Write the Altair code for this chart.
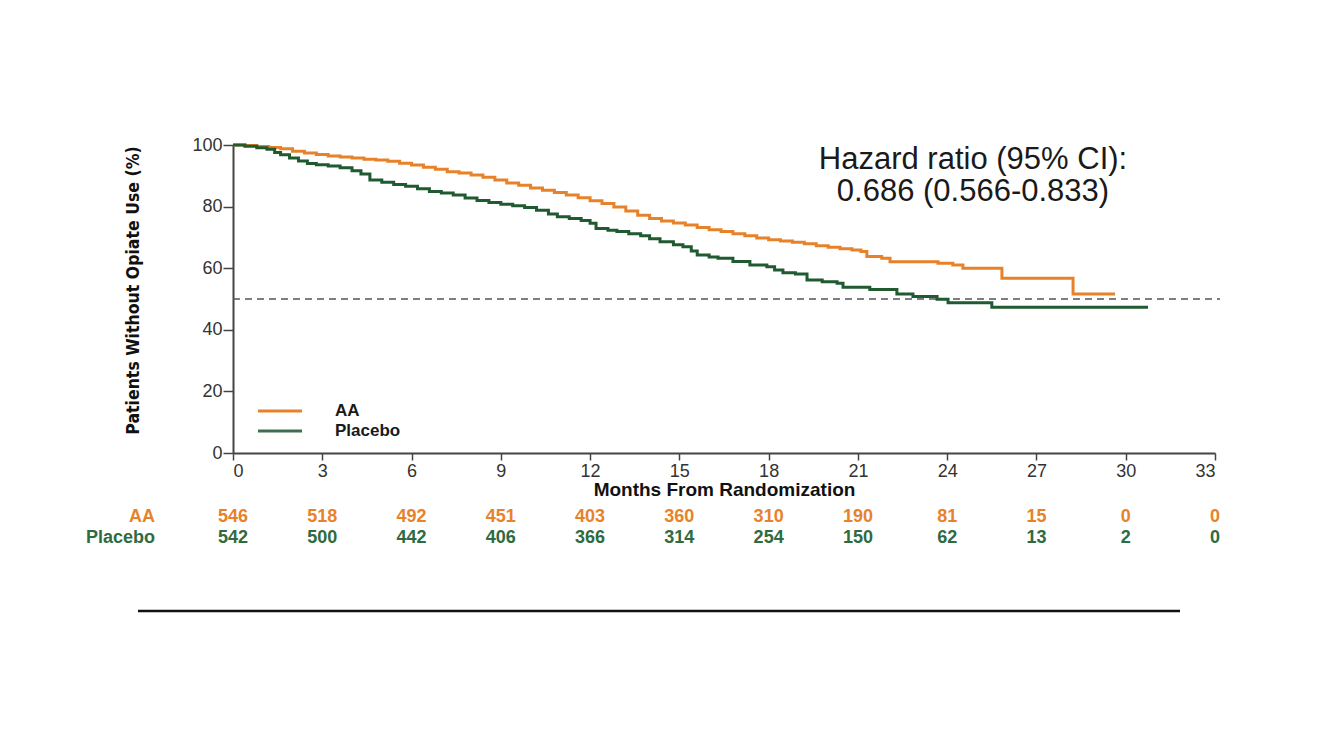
import altair as alt
import pandas as pd

# ---- data ----
groups = ["AA", "Placebo"]
line_colors = ["#E8822A", "#1F5A30"]
text_colors = ["#E8822A", "#2F6B40"]
legend_colors = ["#E8822A", "#3E7050"]

aa_months = [0.0, 0.4, 0.8, 1.2, 1.6, 2.0, 2.4, 2.8, 3.2, 3.6, 4.0, 4.4, 4.8, 5.2, 5.6,
             6.0, 6.4, 6.8, 7.2, 7.6, 8.0, 8.4, 8.8, 9.2, 9.6, 10.0, 10.4, 10.8, 11.2,
             11.6, 12.0, 12.4, 12.8, 13.2, 13.6, 14.0, 14.4, 14.8, 15.2, 15.6, 16.0, 16.4,
             16.8, 17.2, 17.6, 18.0, 18.4, 18.8, 19.2, 19.6, 20.0, 20.4, 20.8, 21.1, 21.3,
             21.8, 22.08, 23.69, 24.19, 24.53, 25.84, 28.23, 29.64]
aa_surv = [100, 99.8, 99.5, 99.2, 98.8, 98.0, 97.4, 96.9, 96.4, 96.1, 95.8, 95.4, 95.1,
           94.7, 94.1, 93.5, 92.8, 92.1, 91.3, 90.9, 90.3, 89.5, 88.6, 87.7, 86.9, 86.0,
           85.3, 84.6, 83.8, 82.9, 81.9, 81.0, 79.9, 78.6, 77.2, 76.1, 75.3, 74.7, 74.0,
           73.2, 72.5, 71.9, 71.2, 70.5, 69.8, 69.2, 68.8, 68.4, 67.9, 67.3, 66.8, 66.3,
           65.9, 65.4, 63.8, 63.2, 62.1, 61.6, 61.0, 60.0, 56.7, 51.6, 51.6]

pl_months = [0.0, 0.4, 0.8, 1.14, 1.4, 1.6, 1.9, 2.2, 2.5, 2.8, 3.2, 3.6, 4.0, 4.3, 4.6,
             5.0, 5.4, 5.8, 6.2, 6.6, 7.0, 7.4, 7.8, 8.2, 8.6, 9.0, 9.4, 9.8, 10.2, 10.6,
             10.9, 11.3, 11.7, 12.0, 12.2, 12.6, 12.9, 13.3, 13.7, 14.0, 14.35, 14.8,
             15.12, 15.4, 15.6, 16.0, 16.3, 16.8, 17.37, 17.94, 18.2, 18.48, 18.9, 19.29,
             19.8, 20.3, 20.5, 21.4, 22.31, 22.85, 23.66, 24.03, 25.50, 30.75]
pl_surv = [100, 99.6, 99.1, 98.6, 97.6, 96.8, 95.8, 94.8, 94.0, 93.6, 93.2, 92.6, 91.6,
           90.6, 88.6, 87.9, 87.2, 86.6, 85.8, 84.9, 84.4, 83.8, 82.8, 82.0, 81.3, 80.8,
           80.3, 79.7, 78.8, 77.6, 76.7, 76.1, 75.5, 74.6, 72.9, 72.3, 71.9, 71.2, 70.5,
           69.6, 68.6, 67.6, 67.0, 65.6, 64.3, 63.6, 63.2, 62.2, 61.0, 60.5, 59.4, 58.5,
           58.1, 56.2, 55.6, 55.1, 53.8, 53.1, 51.6, 50.8, 49.9, 48.8, 47.3, 47.3]

tick_months = [0, 3, 6, 9, 12, 15, 18, 21, 24, 27, 30, 33]
risk_aa = [546, 518, 492, 451, 403, 360, 310, 190, 81, 15, 0, 0]
risk_pl = [542, 500, 442, 406, 366, 314, 254, 150, 62, 13, 2, 0]
y_ticks = [0, 20, 40, 60, 80, 100]
median_line = [50]
hr_text = ["Hazard ratio (95% CI):\n0.686 (0.566-0.833)"]

FONT = "Liberation Sans"

curves = pd.concat([
    pd.DataFrame({"month": aa_months, "surv": aa_surv, "group": groups[0]}),
    pd.DataFrame({"month": pl_months, "surv": pl_surv, "group": groups[1]}),
])

x_scale = alt.Scale(domain=[0, 33], nice=False, zero=False)
y_scale = alt.Scale(domain=[0, 100], nice=False)

lines = alt.Chart(curves).mark_line(interpolate="step-after", strokeWidth=3).encode(
    x=alt.X("month:Q", scale=x_scale,
            axis=alt.Axis(values=tick_months, title="Months From Randomization",
                          titleFont=FONT, titleFontSize=19, titleFontWeight="bold",
                          titleColor="#111", titlePadding=0, labelPadding=2, tickSize=7)),
    y=alt.Y("surv:Q", scale=y_scale,
            axis=alt.Axis(values=y_ticks, title="Patients Without Opiate Use (%)",
                          titleFont="DejaVu Sans Condensed", titleFontSize=17.5,
                          titleFontWeight="bold", titleColor="#111",
                          titleX=-100, titleY=145, titleAngle=-90,
                          titleAlign="center", titleBaseline="middle",
                          labelPadding=1, tickSize=10)),
    color=alt.Color("group:N", scale=alt.Scale(domain=groups, range=line_colors), legend=None),
)

dash = alt.Chart(pd.DataFrame({"y": median_line})).mark_rule(
    strokeDash=[7, 5], color="#555", strokeWidth=1.5
).encode(y=alt.Y("y:Q", scale=y_scale), x=alt.value(0), x2=alt.value(987))

hr = alt.Chart(pd.DataFrame({"txt": hr_text})).mark_text(
    lineBreak="\n", lineHeight=32, font=FONT, fontSize=31, color="#1a1a1a",
    align="center", baseline="top"
).encode(text="txt:N", x=alt.value(740), y=alt.value(0))

risk_layers = []
for i, (g, vals, ypix) in enumerate([(groups[0], risk_aa, 372), (groups[1], risk_pl, 393)]):
    df = pd.DataFrame({"month": tick_months, "n": vals})
    risk_layers.append(
        alt.Chart(df).mark_text(font=FONT, fontSize=18, fontWeight="bold",
                                color=text_colors[i], baseline="middle", align="center")
        .encode(x=alt.X("month:Q", scale=x_scale), y=alt.value(ypix), text="n:Q")
    )
    risk_layers.append(
        alt.Chart(pd.DataFrame({"g": [g]})).mark_text(
            font=FONT, fontSize=18, fontWeight="bold", color=text_colors[i],
            baseline="middle", align="right"
        ).encode(x=alt.value(-78), y=alt.value(ypix), text="g:N")
    )

legend_layers = []
for i, (g, ypix) in enumerate([(groups[0], 266), (groups[1], 286)]):
    d = pd.DataFrame({"g": [g]})
    legend_layers.append(
        alt.Chart(d).mark_rule(color=legend_colors[i], strokeWidth=3)
        .encode(x=alt.value(25), x2=alt.value(69), y=alt.value(ypix))
    )
    legend_layers.append(
        alt.Chart(d).mark_text(font=FONT, fontSize=17, fontWeight="bold", color="#1a1a1a",
                               align="left", baseline="middle")
        .encode(x=alt.value(102), y=alt.value(ypix), text="g:N")
    )

bottom_rule = alt.Chart(pd.DataFrame({"a": [0]})).mark_rule(color="#111", strokeWidth=2.5).encode(
    x=alt.value(-95), x2=alt.value(947), y=alt.value(466)
)

chart = alt.layer(dash, lines, hr, *risk_layers, *legend_layers, bottom_rule).properties(
    width=982, height=308,
    autosize=alt.AutoSizeParams(type="none"),
    padding={"left": 233, "top": 145, "right": 104, "bottom": 288},
    background="white",
).configure_view(stroke=None).configure_axis(
    grid=False, domainColor="#444", domainWidth=2, tickColor="#444", tickWidth=1.5,
    labelColor="#333", labelFont=FONT, labelFontSize=18,
)

chart.save("out.html", embed_options={"renderer": "svg", "actions": False})
